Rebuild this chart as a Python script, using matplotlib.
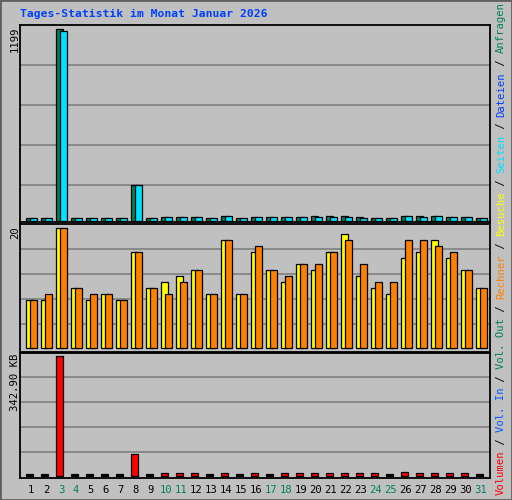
import matplotlib
matplotlib.use("Agg")
import matplotlib.pyplot as plt
from matplotlib.patches import Rectangle
import numpy as np

days = list(range(1, 32))
day_labels = [str(d) for d in days]
weekend = [3, 4, 10, 11, 17, 18, 24, 25, 31]
anfragen = [14,14,1199,14,14,14,14,220,14,20,20,20,14,27,14,20,20,20,20,27,27,27,20,14,14,27,27,27,20,20,14]
dateien  = [14,14,1190,14,14,14,14,220,14,20,20,20,14,27,14,20,20,20,20,20,20,20,14,14,14,27,20,27,20,20,14]
besuche  = [8,8,20,10,8,9,8,16,10,11,12,13,9,18,9,16,13,11,14,13,16,19,12,10,9,15,16,18,15,13,10]
rechner  = [8,9,20,10,9,9,8,16,10,9,11,13,9,18,9,17,13,12,14,14,16,18,14,11,11,18,18,17,16,13,10]
volumen  = [0,0,342.9,0,0,0,0,61,0,8,8,8,0,8,0,8,0,8,8,8,8,8,8,8,0,12,8,8,8,8,0]

BG = "#C0C0C0"
W, H = 512, 500
fig = plt.figure(figsize=(W/100, H/100), dpi=100, facecolor=BG)
MONO = "DejaVu Sans Mono"
FS = 7.6

def px_axes(x1, y1, x2, y2):
    return fig.add_axes([x1/W, 1-y2/H, (x2-x1)/W, (y2-y1)/H])

XL, XR = 20, 490
xmin = 1 - 11/15
xmax = xmin + (XR-XL)/15
u = 1/15  # one pixel in day units

def setup(ax, y1, y2, base_px, top_px, topval, grid_px):
    ax.set_facecolor(BG)
    ax.set_xlim(xmin, xmax)
    per = (base_px-top_px)/topval  # px per unit
    ax.set_ylim(-(y2-base_px)/per, (base_px-y1)/per)
    for g in grid_px:
        ax.axhline((base_px-g)/per, color="#808080", lw=1.2, zorder=0)
    ax.set_xticks([]); ax.set_yticks([])
    for s in ax.spines.values():
        s.set_color("black"); s.set_linewidth(1.3)
    return per

d = np.array(days)
BW = 7*u
ax1 = px_axes(XL, 25, XR, 222)
per1 = setup(ax1, 25, 222, 220.5, 29.5, 1199, [65.3, 105.3, 145.3, 185.3])
ax1.bar(d-5.5*u, anfragen, width=BW, align="edge", color="#00805C", edgecolor="black", lw=0.9)
ax1.bar(d-1.5*u, dateien, width=BW, align="edge", color="#00E0FF", edgecolor="black", lw=0.9)

ax2 = px_axes(XL, 224, XR, 351.5)
setup(ax2, 224, 351.5, 348.3, 228.3, 20, [249.3, 274.3, 299.3, 324.3])
ax2.bar(d-5.5*u, besuche, width=BW, align="edge", color="#FFFF00", edgecolor="black", lw=0.9)
ax2.bar(d-1.5*u, rechner, width=BW, align="edge", color="#FF8000", edgecolor="black", lw=0.9)

ax3 = px_axes(XL, 353, XR, 478)
per3 = setup(ax3, 353, 478, 475.7, 356, 342.9, [377.3, 402.3, 427.3, 452.3])
vol = np.array(volumen, float)
minh = 1.5/per3
cols = ["#FF0000" if v > 0 else "black" for v in vol]
ax3.bar(d-5.5*u, np.maximum(vol, minh), width=BW, align="edge", color=cols, edgecolor="black", lw=0.9)

fig.text(20/W, 1-14/H, "Tages-Statistik im Monat Januar 2026", family=MONO, fontsize=8.2,
         fontweight="bold", color="#0040FF", ha="left", va="center")
for txt, ytop in [("1199", 27), ("20", 226), ("342.90 KB", 354)]:
    fig.text(15/W, 1-ytop/H, txt, family=MONO, fontsize=FS, rotation=90, ha="center", va="top")
for dd, lab in zip(days, day_labels):
    xp = 31 + (dd-1)*15
    fig.text(xp/W, 1-490/H, lab, family=MONO, fontsize=FS,
             color="#00805C" if dd in weekend else "black", ha="center", va="center")
segs = [("Volumen", "#FF0000"), (" / ", "black"), ("Vol. In", "#0055FF"), (" / ", "black"),
        ("Vol. Out", "#00805C"), (" / ", "black"), ("Rechner", "#FF8000"), (" / ", "black"),
        ("Besuche", "#FFFF00"), (" / ", "black"), ("Seiten", "#00E0FF"), (" / ", "black"),
        ("Dateien", "#0040FF"), (" / ", "black"), ("Anfragen", "#00805C")]
total = sum(len(s) for s, _ in segs)
cw = (495-3)/total
y = 495
for s, c in segs:
    fig.text(501/W, 1-y/H, s, family=MONO, fontsize=FS, rotation=90, color=c,
             ha="center", va="bottom")
    y -= len(s)*cw

fig.patches.append(Rectangle((0, 0), 1, 1, transform=fig.transFigure, fill=False,
                             edgecolor="#606060", lw=2))
fig.savefig("out.png", dpi=100, facecolor=BG)
